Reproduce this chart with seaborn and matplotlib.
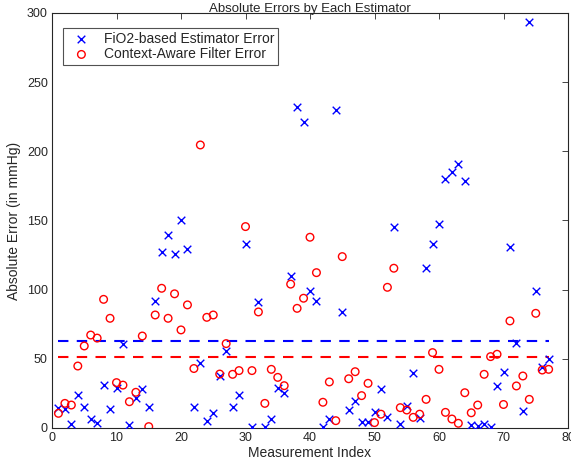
import matplotlib
matplotlib.use("Agg")
import matplotlib.pyplot as plt
import seaborn as sns
import pandas as pd

# Data
index = list(range(1, 78))
fio2_err = [14.2, 14, 2.7, 24, 15.4, 6.5, 3.4, 31, 14, 28.7,
            61, 2, 22, 28, 15, 92, 127, 139.5, 126, 150.4,
            129.4, 15, 46.8, 5.3, 10.6, 37.8, 56, 15, 23.9, 133,
            1, 91, 1, 6.3, 29, 25, 110, 232, 221.5, 99,
            92, 1, 6.3, 230, 84, 13, 19.8, 4.6, 4.6, 11.8,
            28, 7.7, 145.6, 2.6, 16.2, 39.5, 7, 116, 132.8, 147.5,
            180.3, 184.9, 190.6, 178.4, 2, 1.5, 2.6, 1, 30.6, 40.2,
            130.6, 61.7, 12.5, 293.8, 99, 43.9, 50]
caf_err = [10.6, 17.8, 16.6, 44.8, 59.3, 67.2, 65, 93, 79.3, 32.8,
           31, 19, 25.8, 66.5, 1, 81.7, 101, 79.3, 97, 70.9,
           89, 43, 204.6, 80, 81.7, 39, 61, 38.8, 41.5, 145.6,
           41.5, 83.9, 17.8, 42.4, 36.6, 30.6, 104, 86.5, 93.8, 137.9,
           112.3, 18.6, 33.3, 5.3, 123.9, 35.6, 40.7, 23.4, 32.3, 3.9,
           10, 101.7, 115.5, 14.7, 13, 7.7, 10, 20.7, 54.5, 42.4,
           11.3, 6.5, 3.4, 25.5, 11, 16.6, 38.8, 51.6, 53.3, 17,
           77.4, 30.4, 37.6, 20.7, 82.9, 41.9, 42.4]
fio2_mean = 62.9
caf_mean = 51.3
series_names = ["FiO2-based Estimator Error", "Context-Aware Filter Error"]
title = "Absolute Errors by Each Estimator"
xlabel = "Measurement Index"
ylabel = "Absolute Error (in mmHg)"

sns.set_style("white")
plt.rcParams['font.family'] = ['Liberation Sans', 'DejaVu Sans']

df1 = pd.DataFrame({"idx": index, "err": fio2_err})
df2 = pd.DataFrame({"idx": index, "err": caf_err})

fig = plt.figure(figsize=(5.71, 4.63), dpi=100)
ax = fig.add_axes([52/571, 35/463, 516/571, 415/463])

sns.scatterplot(data=df1, x="idx", y="err", marker="x", color="#0000ff",
                s=30, linewidth=1.0, ax=ax, label=series_names[0], zorder=3)
sns.scatterplot(data=df2, x="idx", y="err", marker="o", facecolor="none",
                edgecolor="#ff0000", s=30, linewidth=1.0, ax=ax,
                label=series_names[1], zorder=3)

ax.plot([index[0], index[-1]], [fio2_mean, fio2_mean], color="#0000ff",
        linestyle=(0, (5, 4)), linewidth=1.5)
ax.plot([index[0], index[-1]], [caf_mean, caf_mean], color="#ff0000",
        linestyle=(0, (5, 4)), linewidth=1.5)

ax.set_xlim(0, 80)
ax.set_ylim(0, 300)
ax.set_xticks(range(0, 81, 10))
ax.set_yticks(range(0, 301, 50))
ax.tick_params(direction="in", top=True, right=True, length=4, width=0.6,
               labelsize=9, colors="#262626", pad=3)
for sp in ax.spines.values():
    sp.set_color("#262626")
    sp.set_linewidth(0.8)
ax.set_title(title, fontsize=9.5, pad=1)
ax.set_xlabel(xlabel, fontsize=10, color="#262626", labelpad=1)
ax.set_ylabel(ylabel, fontsize=10, color="#262626", labelpad=4)

leg = ax.legend(loc="upper left", bbox_to_anchor=(0.022, 0.965), fontsize=10,
                frameon=True, fancybox=False, edgecolor="#262626",
                borderpad=0.3, handletextpad=0.6, labelspacing=0.1,
                borderaxespad=0)
leg.get_frame().set_linewidth(0.8)

fig.savefig("out.png", dpi=100)
